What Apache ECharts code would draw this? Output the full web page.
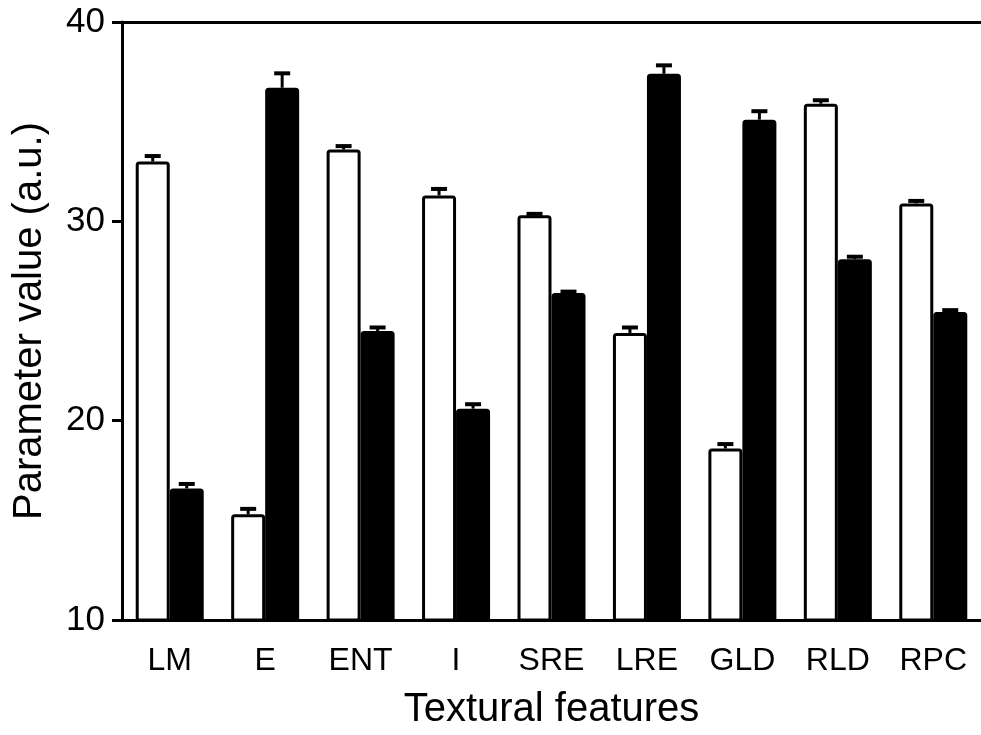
<!DOCTYPE html>
<html>
<head>
<meta charset="utf-8">
<script src="https://cdn.jsdelivr.net/npm/echarts@6/dist/echarts.min.js"></script>
<style>
  html, body { margin: 0; padding: 0; background: #fff; }
  #chart { width: 981px; height: 735px; }
</style>
</head>
<body>
<div id="chart"></div>
<script>
// Textural feature parameters for the two groups (open and filled bars)
const features = ['LM', 'E', 'ENT', 'I', 'SRE', 'LRE', 'GLD', 'RLD', 'RPC'];
const openValues = [33.0, 15.3, 33.6, 31.3, 30.3, 24.4, 18.6, 35.9, 30.9];
const openErrors = [0.3, 0.3, 0.2, 0.35, 0.1, 0.3, 0.25, 0.2, 0.15];
const filledValues = [16.6, 36.7, 24.5, 20.6, 26.4, 37.4, 35.1, 28.1, 25.45];
const filledErrors = [0.25, 0.75, 0.2, 0.25, 0.1, 0.45, 0.45, 0.15, 0.12];
const yTicks = [10, 20, 30, 40];

const FONT = 'Liberation Sans, Arial, Helvetica, sans-serif';
const BAR_W = 34;
const LINE = 3;

// Upper error whisker drawn above each bar
function errorSeries(values, errors, offset) {
  return {
    type: 'custom',
    z: 5,
    clip: false,
    data: values.map((v, i) => [i, v, v + errors[i]]),
    renderItem: function (params, api) {
      const base = api.coord([api.value(0), api.value(1)]);
      const top = api.coord([api.value(0), api.value(2)]);
      const x = base[0] + offset;
      const capHalf = 8;
      return {
        type: 'group',
        children: [
          {
            type: 'line',
            shape: { x1: x, y1: base[1], x2: x, y2: top[1] },
            style: { stroke: '#000', lineWidth: LINE }
          },
          {
            type: 'line',
            shape: { x1: x - capHalf, y1: top[1] + 0.5, x2: x + capHalf, y2: top[1] + 0.5 },
            style: { stroke: '#000', lineWidth: LINE + 1 }
          }
        ]
      };
    }
  };
}

const chart = echarts.init(document.getElementById('chart'), null, { renderer: 'canvas' });
chart.setOption({
  backgroundColor: '#fff',
  animation: false,
  grid: { left: 122, top: 22, width: 867, bottom: 115, containLabel: false },
  xAxis: [
    {
      type: 'category',
      data: features,
      position: 'bottom',
      axisLine: { lineStyle: { color: '#000', width: LINE } },
      axisTick: { show: false },
      axisLabel: { color: '#000', fontFamily: FONT, fontSize: 32, margin: 25 },
      name: 'Textural features',
      nameLocation: 'middle',
      nameGap: 70,
      nameTextStyle: { color: '#000', fontFamily: FONT, fontSize: 40 }
    },
    {
      type: 'category',
      data: features,
      position: 'top',
      axisLine: { lineStyle: { color: '#000', width: LINE } },
      axisTick: { show: false },
      axisLabel: { show: false }
    }
  ],
  yAxis: {
    type: 'value',
    min: 10,
    max: 40,
    interval: 10,
    axisLine: { show: true, lineStyle: { color: '#000', width: LINE } },
    axisTick: { show: true, length: 10, lineStyle: { color: '#000', width: LINE } },
    axisLabel: {
      color: '#000', fontFamily: FONT, fontSize: 35, margin: 17,
      formatter: v => (yTicks.indexOf(v) >= 0 ? String(v) : '')
    },
    splitLine: { show: false },
    name: 'Parameter value (a.u.)',
    nameLocation: 'middle',
    nameGap: 72,
    nameTextStyle: { color: '#000', fontFamily: FONT, fontSize: 40 }
  },
  series: [
    {
      type: 'bar',
      data: openValues,
      barWidth: BAR_W,
      barGap: '0%',
      itemStyle: { color: '#fff', borderColor: '#000', borderWidth: LINE, borderRadius: [2, 2, 0, 0] }
    },
    {
      type: 'bar',
      data: filledValues,
      barWidth: BAR_W,
      barGap: '0%',
      itemStyle: { color: '#000', borderColor: '#000', borderWidth: LINE, borderRadius: [2, 2, 0, 0] }
    },
    errorSeries(openValues, openErrors, -BAR_W / 2),
    errorSeries(filledValues, filledErrors, BAR_W / 2)
  ]
});
</script>
</body>
</html>
